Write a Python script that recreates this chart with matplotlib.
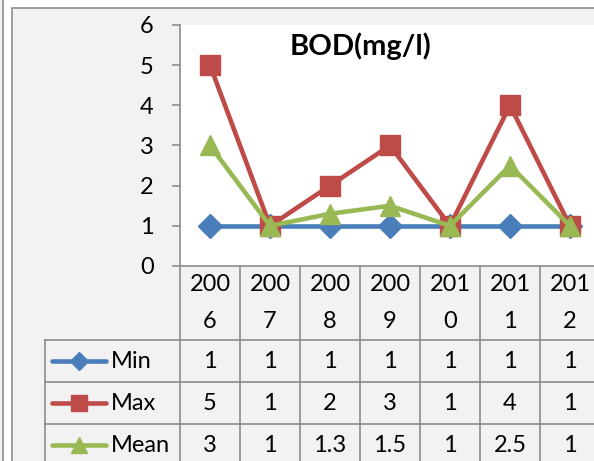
import matplotlib.pyplot as plt
import matplotlib.transforms as mtransforms
from matplotlib.lines import Line2D
from matplotlib.patches import Rectangle

plt.rcParams['font.family'] = ['Lato', 'DejaVu Sans']

years = ['2006', '2007', '2008', '2009', '2010', '2011', '2012']
min_vals = [1, 1, 1, 1, 1, 1, 1]
max_vals = [5, 1, 2, 3, 1, 4, 1]
mean_vals = [3, 1, 1.3, 1.5, 1, 2.5, 1]
series_names = ['Min', 'Max', 'Mean']
colors = ['#4a7ebb', '#be4b48', '#98b954']
markers = ['D', 's', '^']
msizes = [12, 14, 15]

W, H = 594, 461
fig = plt.figure(figsize=(W / 100, H / 100), dpi=100, facecolor='white')

# overlay in pixel coordinates for frame and data table
ov = fig.add_axes([0, 0, 1, 1], zorder=0)
ov.set_xlim(0, W)
ov.set_ylim(H, 0)
ov.axis('off')
grid_c = '#8c8c8c'
ov.add_patch(Rectangle((0, 0), 3, H, facecolor='#f2f2f2', edgecolor='none'))
ov.plot([3, 3], [0, H], color=grid_c, lw=1.2)
ov.add_patch(Rectangle((12, 8), W, H, facecolor='#f2f2f2', edgecolor=grid_c, lw=1.2))

# plot area
x0, x1, ytop, ybot = 180, 600, 25, 266
ax = fig.add_axes([x0 / W, (H - ybot) / H, (x1 - x0) / W, (ybot - ytop) / H], zorder=2)
ax.set_facecolor('white')
xs = list(range(len(years)))
for vals, name, c, m, ms in zip([min_vals, max_vals, mean_vals], series_names, colors, markers, msizes):
    ax.plot(xs, vals, color=c, lw=3.3, marker=m, markersize=ms, label=name)
ax.set_xlim(-0.5, len(years) - 0.5)
ax.set_ylim(0, 6)
ax.set_yticks(range(0, 7))
ax.set_xticks([])
ax.tick_params(axis='y', direction='out', length=6, width=1.2, color=grid_c,
               labelsize=17, pad=13)
for s in ['top', 'right']:
    ax.spines[s].set_visible(False)
for s in ['left', 'bottom']:
    ax.spines[s].set_color(grid_c)
    ax.spines[s].set_linewidth(1.2)
fig.text(361 / W, 1 - 46 / H, 'BOD(mg/l)', fontsize=21, fontweight='bold',
         ha='center', va='center', zorder=5)

# data table below the plot
tr = mtransforms.blended_transform_factory(ax.transData, ov.transData)
row_tops = [266, 340, 382, 424, 466]
fs = 17
for i in range(len(years) + 1):
    ov.plot([i - 0.5, i - 0.5], [266, H], color=grid_c, lw=1.2, transform=tr)
ov.plot([45, 45], [340, H], color=grid_c, lw=1.2)
for y in row_tops[1:4]:
    ov.plot([45, W], [y, y], color=grid_c, lw=1.2)
for i, yr in enumerate(years):
    ov.text(i, 284, yr[:3], ha='center', va='center', fontsize=fs, transform=tr)
    ov.text(i, 321, yr[3:], ha='center', va='center', fontsize=fs, transform=tr)
for r, (vals, name, c, m, ms) in enumerate(zip([min_vals, max_vals, mean_vals], series_names,
                                               colors, markers, msizes)):
    yc = (row_tops[r + 1] + row_tops[r + 2]) / 2
    ov.add_line(Line2D([52, 106], [yc, yc], color=c, lw=3.3, solid_capstyle='round'))
    ov.add_line(Line2D([79], [yc], color=c, marker=m, markersize=ms - 3, lw=0))
    ov.text(111, yc, name, ha='left', va='center', fontsize=fs)
    for i, v in enumerate(vals):
        ov.text(i, yc, f'{v:g}', ha='center', va='center', fontsize=fs, transform=tr)

fig.savefig('out.png', dpi=100, facecolor=fig.get_facecolor())
